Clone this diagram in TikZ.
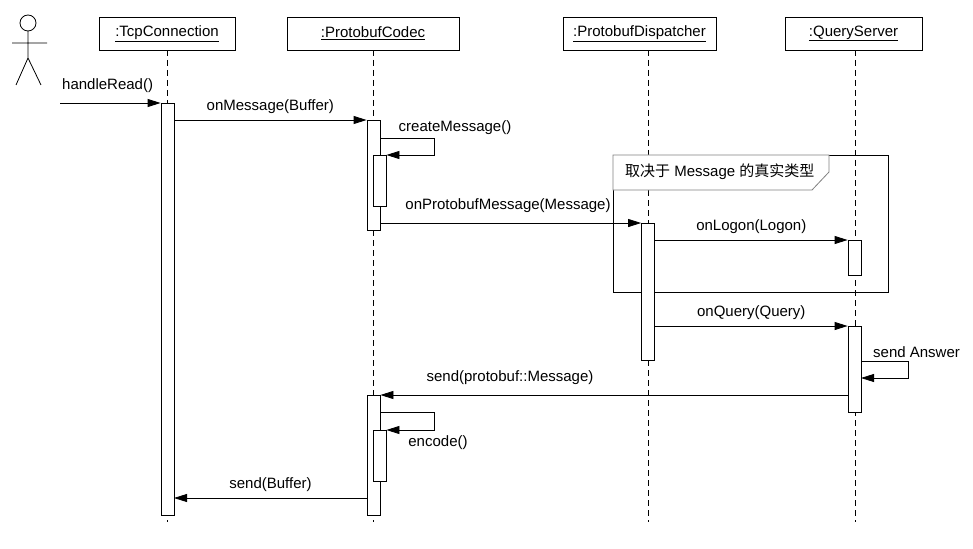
\documentclass[tikz,border=0pt]{standalone}
\usepackage{fontspec}
\setmainfont{Liberation Sans}
\newfontfamily\cjk{Noto Sans CJK SC}
\usetikzlibrary{arrows.meta}
\begin{document}
\begin{tikzpicture}[x=1pt,y=-1pt,font=\fontsize{15}{17}\selectfont,
  hdr/.style={draw,fill=white,minimum height=33pt,inner sep=0pt,line width=0.8pt},
  act/.style={draw,fill=white,minimum width=13pt,inner sep=0pt,anchor=north,line width=0.8pt},
  life/.style={dash pattern=on 6pt off 4pt,line width=0.8pt},
  msg/.style={-{Triangle[length=13pt,width=8pt]},line width=0.8pt},
  lbl/.style={inner sep=1pt}]
\useasboundingbox (0,0) rectangle (973,548);
% lifelines
\foreach \n/\x in {l1/167,l2/373,l3/648,l4/855}{
  \coordinate (\n t) at (\x,50); \coordinate (\n b) at (\x,522);
  \draw[life] (\n t) -- (\n b);}
\node[hdr,minimum width=136pt] (h1) at (167,33.5) {\underline{:TcpConnection}};
\node[hdr,minimum width=172pt] (h2) at (373,33.5) {\underline{:ProtobufCodec}};
\node[hdr,minimum width=153pt] (h3) at (639.5,33.5) {\underline{:ProtobufDispatcher}};
\node[hdr,minimum width=137pt] (h4) at (853.5,33.5) {\underline{:QueryServer}};
% actor
\draw[line width=0.8pt] (28,23) circle (8);
\draw[line width=0.8pt] (28,31) -- (28,58) (12,43) -- (47,43) (28,58) -- (16,85) (28,58) -- (41,85);
% fragment
\draw[line width=0.8pt] (613,155) rectangle (888,292);
\draw[gray,line width=0.8pt,fill=white] (613,155) -- (829,155) -- (829,172) -- (812,190) -- (613,190) -- cycle;
\node[lbl,anchor=west] (frag) at (624,172) {{\cjk 取决于} Message {\cjk 的真实类型}};
% activations
\node[act,minimum height=412pt] (a1) at (167.5,103) {};
\node[act,minimum height=110pt] (a2) at (373.5,120) {};
\node[act,minimum height=51pt] (a2n) at (379.5,155) {};
\node[act,minimum height=137pt] (a3) at (648,223) {};
\node[act,minimum height=35pt] (a4) at (854.5,240) {};
\node[act,minimum height=86pt] (a5) at (854.5,326) {};
\node[act,minimum height=120pt] (a6) at (373.5,395) {};
\node[act,minimum height=51pt] (a6n) at (379.5,430) {};
% messages
\coordinate (start) at (60,103);
\draw[msg] (start) -- (a1.north west);
\node[lbl,anchor=west] (m1) at (61,86) {handleRead()};
\draw[msg] (174,120) -- (a2.north west) node[lbl,midway,above=5pt] {onMessage(Buffer)};
\draw[msg] (380,138) -- (434,138) -- (434,155) -- (a2n.north east);
\node[lbl] (m3) at (455,128) {createMessage()};
\draw[msg] (380,223) -- (a3.north west);
\node[lbl] (m4) at (508,206) {onProtobufMessage(Message)};
\draw[msg] (655,240) -- (a4.north west) node[lbl,midway,above=5pt] {onLogon(Logon)};
\draw[msg] (655,326) -- (a5.north west) node[lbl,midway,above=5pt] {onQuery(Query)};
\draw[msg] (861,361) -- (908,361) -- (908,378) -- (861,378);
\node[lbl,anchor=west] (m7) at (872,352) {send Answer};
\draw[msg] (848,395) -- (a6.north east);
\node[lbl] (m8) at (510,378) {send(protobuf::Message)};
\draw[msg] (380,412) -- (434,412) -- (434,430) -- (a6n.north east);
\node[lbl] (m9) at (438,443) {encode()};
\draw[msg] (367,498) -- (174,498) node[lbl,midway,above=5pt] {send(Buffer)};
\end{tikzpicture}
\end{document}
